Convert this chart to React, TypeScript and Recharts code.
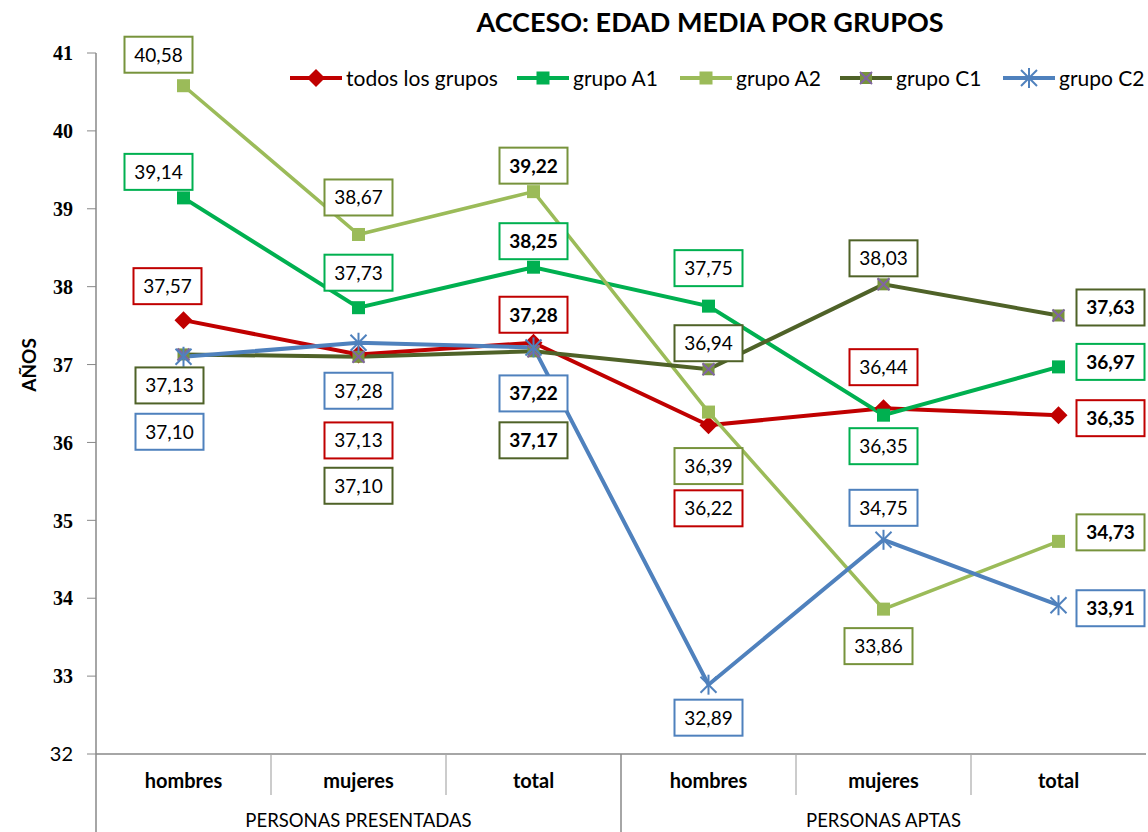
import React from 'react';
import { LineChart, Line, XAxis, YAxis, LabelList } from 'recharts';

const categories = ['hombres', 'mujeres', 'total', 'hombres', 'mujeres', 'total'];
const groupLabels = ['PERSONAS PRESENTADAS', 'PERSONAS APTAS'];
const yTicks = [32, 33, 34, 35, 36, 37, 38, 39, 40, 41];

const todos = [37.57, 37.13, 37.28, 36.22, 36.44, 36.35];
const grupoA1 = [39.14, 37.73, 38.25, 37.75, 36.35, 36.97];
const grupoA2 = [40.58, 38.67, 39.22, 36.39, 33.86, 34.73];
const grupoC1 = [37.13, 37.10, 37.17, 36.94, 38.03, 37.63];
const grupoC2 = [37.10, 37.28, 37.22, 32.89, 34.75, 33.91];

// label placement (style): [dx, dy] from the point
const offTodos = [[-16, -34], [0, 86], [0, -28], [0, 83], [0, -41], [52, 3]];
const offA1 = [[-25, -26], [0, -35], [0, -26], [0, -38], [0, 31], [52, -5]];
const offA2 = [[-25, -31], [0, -37], [0, -26], [0, 54], [-5, 37], [52, -9]];
const offC1 = [[-14, 31], [0, 129], [0, 89], [0, -26], [0, -26], [52, -8]];
const offC2 = [[-14, 75], [0, 48], [0, 46], [0, 33], [0, -32], [52, 3]];
const boldIdx = [2, 5];
const legendX = [290, 517, 680, 840, 1003];

const data = categories.map((c, i) => ({
  k: 'c' + i,
  todos: todos[i],
  a1: grupoA1[i],
  a2: grupoA2[i],
  c1: grupoC1[i],
  c2: grupoC2[i],
}));

const FONT = 'Lato, "Open Sans", sans-serif';

const series = [
  { key: 'todos', name: 'todos los grupos', color: '#C00000', box: '#C00000', off: offTodos, marker: 'diamond', w: 4 },
  { key: 'a1', name: 'grupo A1', color: '#00B050', box: '#00B050', off: offA1, marker: 'square', w: 4 },
  { key: 'a2', name: 'grupo A2', color: '#9BBB59', box: '#77933C', off: offA2, marker: 'square', w: 3.5 },
  { key: 'c1', name: 'grupo C1', color: '#4F6228', box: '#4F6228', off: offC1, marker: 'xsquare', w: 4 },
  { key: 'c2', name: 'grupo C2', color: '#4F81BD', box: '#4F81BD', off: offC2, marker: 'star', w: 4 },
];

function Marker({ type, cx, cy, color }: any) {
  if (cx == null || cy == null) return null;
  if (type === 'diamond') {
    const s = 9;
    return <polygon points={`${cx},${cy - s} ${cx + s},${cy} ${cx},${cy + s} ${cx - s},${cy}`} fill={color} />;
  }
  if (type === 'square') {
    const s = 6.5;
    return <rect x={cx - s} y={cy - s} width={2 * s} height={2 * s} fill={color} />;
  }
  if (type === 'xsquare') {
    const s = 6;
    return (
      <g>
        <rect x={cx - s} y={cy - s} width={2 * s} height={2 * s} fill="#77933C" />
        <line x1={cx - s} y1={cy - s} x2={cx + s} y2={cy + s} stroke="#8064A2" strokeWidth={2} />
        <line x1={cx - s} y1={cy + s} x2={cx + s} y2={cy - s} stroke="#8064A2" strokeWidth={2} />
      </g>
    );
  }
  const s = 8;
  return (
    <g stroke={color} strokeWidth={2}>
      <line x1={cx - s} y1={cy - s} x2={cx + s} y2={cy + s} />
      <line x1={cx - s} y1={cy + s} x2={cx + s} y2={cy - s} />
      <line x1={cx} y1={cy - s - 2} x2={cx} y2={cy + s + 2} />
    </g>
  );
}

function makeLabel(s: any) {
  return (props: any) => {
    const { x, y, value, index } = props;
    if (x == null || y == null) return null;
    const [dx, dy] = s.off[index];
    const cx = x + dx;
    const cy = y + dy;
    const w = 68;
    const h = 36;
    const txt = Number(value).toFixed(2).replace('.', ',');
    return (
      <g>
        <rect x={cx - w / 2} y={cy - h / 2} width={w} height={h} fill="#fff" stroke={s.box} strokeWidth={2} />
        <text x={cx} y={cy + 7} textAnchor="middle" fontFamily={FONT} fontSize={19}
          fontWeight={boldIdx.includes(index) ? 700 : 400} fill="#000">{txt}</text>
      </g>
    );
  };
}

function XTick(props: any) {
  const { x, y, index } = props;
  const half = 87.5;
  const axisY = y - 8;
  const els: any[] = [];
  els.push(
    <text key="t" x={x} y={axisY + 34} textAnchor="middle" fontFamily={FONT} fontWeight={700} fontSize={20} fill="#000">
      {categories[index]}
    </text>
  );
  if (index === 0) {
    els.push(<line key="l0" x1={x - half} y1={axisY} x2={x - half} y2={axisY + 80} stroke="#888" strokeWidth={1.5} />);
  }
  if (index === 1 || index === 4) {
    els.push(
      <text key="g" x={x} y={axisY + 73} textAnchor="middle" fontFamily={FONT} fontSize={18.5} fill="#000">
        {groupLabels[index === 1 ? 0 : 1]}
      </text>
    );
  }
  if (index === 2) {
    els.push(<line key="l" x1={x + half} y1={axisY} x2={x + half} y2={axisY + 80} stroke="#888" strokeWidth={1.5} />);
  } else if (index !== 5) {
    els.push(<line key="l" x1={x + half} y1={axisY} x2={x + half} y2={axisY + 41} stroke="#aaa" strokeWidth={1.2} />);
  }
  return <g>{els}</g>;
}

function YTick(props: any) {
  const { x, y, payload, index } = props;
  const first = index === 0;
  return (
    <text x={x} y={y} dy="0.36em" textAnchor="end" fill="#000"
      fontFamily={first ? FONT : '"Liberation Serif", serif'} fontWeight={first ? 400 : 700} fontSize={20}>
      {payload.value}
    </text>
  );
}

export default function App() {
  return (
    <div style={{ position: 'absolute', left: 0, top: 0, width: 1148, height: 832, background: '#fff' }}>
      <LineChart width={1148} height={832} data={data} margin={{ top: 53, right: 2, bottom: 0, left: 0 }}>
        <XAxis dataKey="k" scale="point" padding={{ left: 87.5, right: 87.5 }} height={78} interval={0}
          axisLine={{ stroke: '#888', strokeWidth: 1.5 }} tickLine={false} tick={<XTick />} />
        <YAxis type="number" domain={[32, 41]} ticks={yTicks} width={96} interval={0}
          axisLine={{ stroke: '#888', strokeWidth: 1.5 }} tickLine={{ stroke: '#888' }} tickSize={9} tickMargin={14}
          tick={<YTick />} />
        {series.map((s) => (
          <Line key={s.key} dataKey={s.key} name={s.name} stroke={s.color} strokeWidth={s.w}
            isAnimationActive={false}
            dot={(p: any) => <Marker key={`${s.key}-${p.index}`} type={s.marker} cx={p.cx} cy={p.cy} color={s.color} />}
            activeDot={false}>
            <LabelList dataKey={s.key} content={makeLabel(s)} />
          </Line>
        ))}
      </LineChart>
      <div style={{ position: 'absolute', left: 0, width: 1420, top: 5, textAlign: 'center', fontFamily: FONT, fontWeight: 700, fontSize: 27, color: '#000' }}>
        ACCESO: EDAD MEDIA POR GRUPOS
      </div>
      <div style={{ position: 'absolute', left: 28, top: 365, transform: 'translate(-50%, -50%) rotate(-90deg)', fontFamily: FONT, fontWeight: 700, fontSize: 19, color: '#000' }}>
        AÑOS
      </div>
      {series.map((s, i) => (
        <div key={s.key} style={{ position: 'absolute', left: legendX[i], top: 65, display: 'flex', alignItems: 'center', fontFamily: FONT, fontSize: 21, color: '#000', whiteSpace: 'nowrap' }}>
          <svg width={52} height={24} style={{ marginRight: 4 }}>
            <line x1={0} y1={12} x2={52} y2={12} stroke={s.color} strokeWidth={4} />
            <Marker type={s.marker} cx={26} cy={12} color={s.color} />
          </svg>
          <span>{s.name}</span>
        </div>
      ))}
    </div>
  );
}
